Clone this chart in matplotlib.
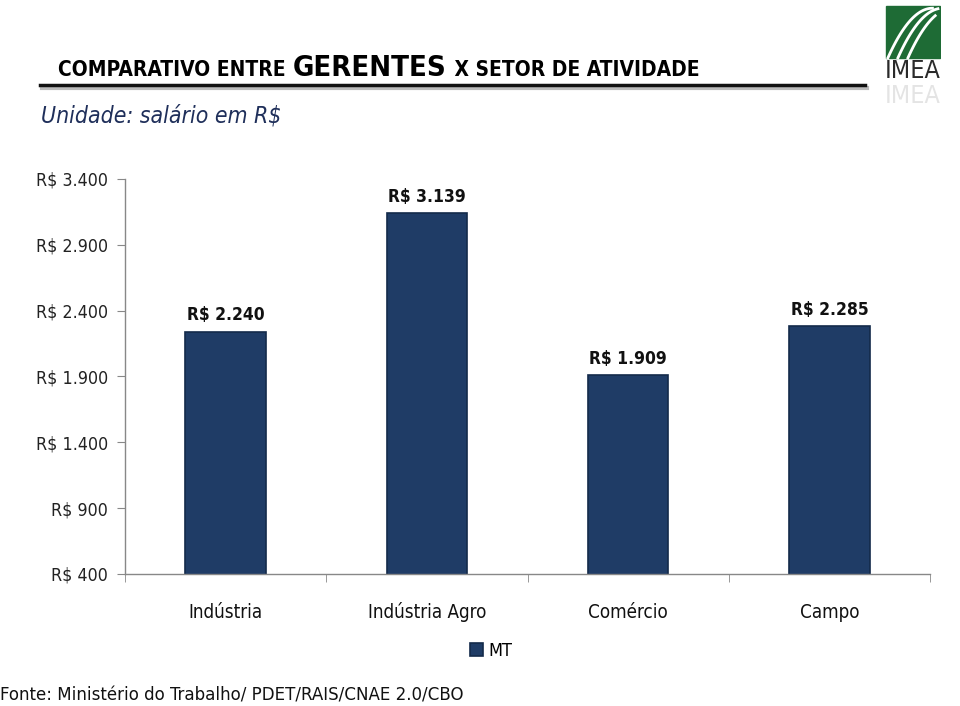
import numpy as np
import matplotlib
matplotlib.use("Agg")
import matplotlib.pyplot as plt
from matplotlib.patches import Rectangle
from matplotlib.lines import Line2D

# Data
setores = ["Indústria", "Indústria Agro", "Comércio", "Campo"]
salarios = [2240, 3139, 1909, 2285]
rotulos = ["R$ 2.240", "R$ 3.139", "R$ 1.909", "R$ 2.285"]
yticks = [400, 900, 1400, 1900, 2400, 2900, 3400]
yticklabels = ["R$ 400", "R$ 900", "R$ 1.400", "R$ 1.900", "R$ 2.400", "R$ 2.900", "R$ 3.400"]

plt.rcParams['font.family'] = ['DejaVu Sans']
plt.rcParams['font.stretch'] = 'condensed'
bar_color = '#1F3C66'
edge_color = '#132A4A'

fig = plt.figure(figsize=(9.6, 7.06), dpi=100)
ax = fig.add_axes([0.130, 0.187, 0.839, 0.5595])

x = np.arange(len(setores))
ax.bar(x, salarios, width=0.4, color=bar_color, edgecolor=edge_color, linewidth=1.2, label='MT')
for xi, v, t in zip(x, salarios, rotulos):
    ax.text(xi, v + 55, t, ha='center', va='bottom', fontsize=12.5, fontweight='bold', color='#111111')

ax.set_xlim(-0.5, len(setores) - 0.5)
ax.set_ylim(400, 3400)
ax.set_yticks(yticks)
ax.set_yticklabels(yticklabels, fontsize=12.8, color='#222222')
ax.set_xticks(x)
ax.set_xticklabels(setores, fontsize=13.5, color='#111111', va='baseline')
ax.tick_params(axis='x', length=0, pad=32)
ax.tick_params(axis='y', length=6, color='#888888', pad=6)
ax.set_xticks(np.arange(-0.5, len(setores), 1.0), minor=True)
ax.tick_params(axis='x', which='minor', length=6, color='#888888', direction='out')
for s in ['top', 'right']:
    ax.spines[s].set_visible(False)
for s in ['left', 'bottom']:
    ax.spines[s].set_color('#888888')
    ax.spines[s].set_linewidth(1)

leg = ax.legend(loc='upper center', bbox_to_anchor=(0.455, -0.13), frameon=False,
                fontsize=13, handlelength=0.7, handleheight=0.7, handletextpad=0.3)

# Header: pieces placed one after another
fig.canvas.draw()
r = fig.canvas.get_renderer()
xpos = 58
for txt, size in [("COMPARATIVO ENTRE ", 15), ("GERENTES", 21), (" X SETOR DE ATIVIDADE", 15)]:
    t = fig.text(xpos / 960, 1 - 76 / 706, txt, fontsize=size, fontweight='bold', va='baseline')
    xpos = t.get_window_extent(r).x1 + 1
fig.add_artist(Line2D([0.044, 0.903], [0.876, 0.876], color='#BBBBBB', linewidth=3, transform=fig.transFigure))
fig.add_artist(Line2D([0.042, 0.901], [0.879, 0.879], color='#111111', linewidth=2.5, transform=fig.transFigure))
fig.text(0.043, 1 - 122 / 706, "Unidade: salário em R$", fontsize=16.5, style='italic', color='#1F2F5A', va='baseline')

# Footer
fig.text(0.0, 1 - 700 / 706, "Fonte: Ministério do Trabalho/ PDET/RAIS/CNAE 2.0/CBO", fontsize=13.3, color='#111111', va='baseline')

# Logo (simplified)
lax = fig.add_axes([0.922, 0.848, 0.058, 0.148])
lax.set_xlim(0, 1)
lax.set_ylim(0, 1.5)
lax.axis('off')
lax.add_patch(Rectangle((0.02, 0.71), 0.96, 0.75, color='#1E6B35'))
tt = np.linspace(0, 1, 50)
for off in [0.0, 0.18, 0.36]:
    xs = 0.25 + off + 0.6 * tt
    ys = 0.71 + 0.75 * (1 - (1 - tt) ** 2) * 0.95
    m = xs <= 0.98
    lax.plot(xs[m] - 0.2 * (1 - tt[m]), ys[m], color='white', linewidth=2)
lax.text(0.5, 0.52, "IMEA", ha='center', va='center', fontsize=18, color='#2A2A2A')
lax.text(0.5, 0.16, "IMEA", ha='center', va='center', fontsize=18, color='#E4E4E4')

fig.savefig("out.png", dpi=100)
